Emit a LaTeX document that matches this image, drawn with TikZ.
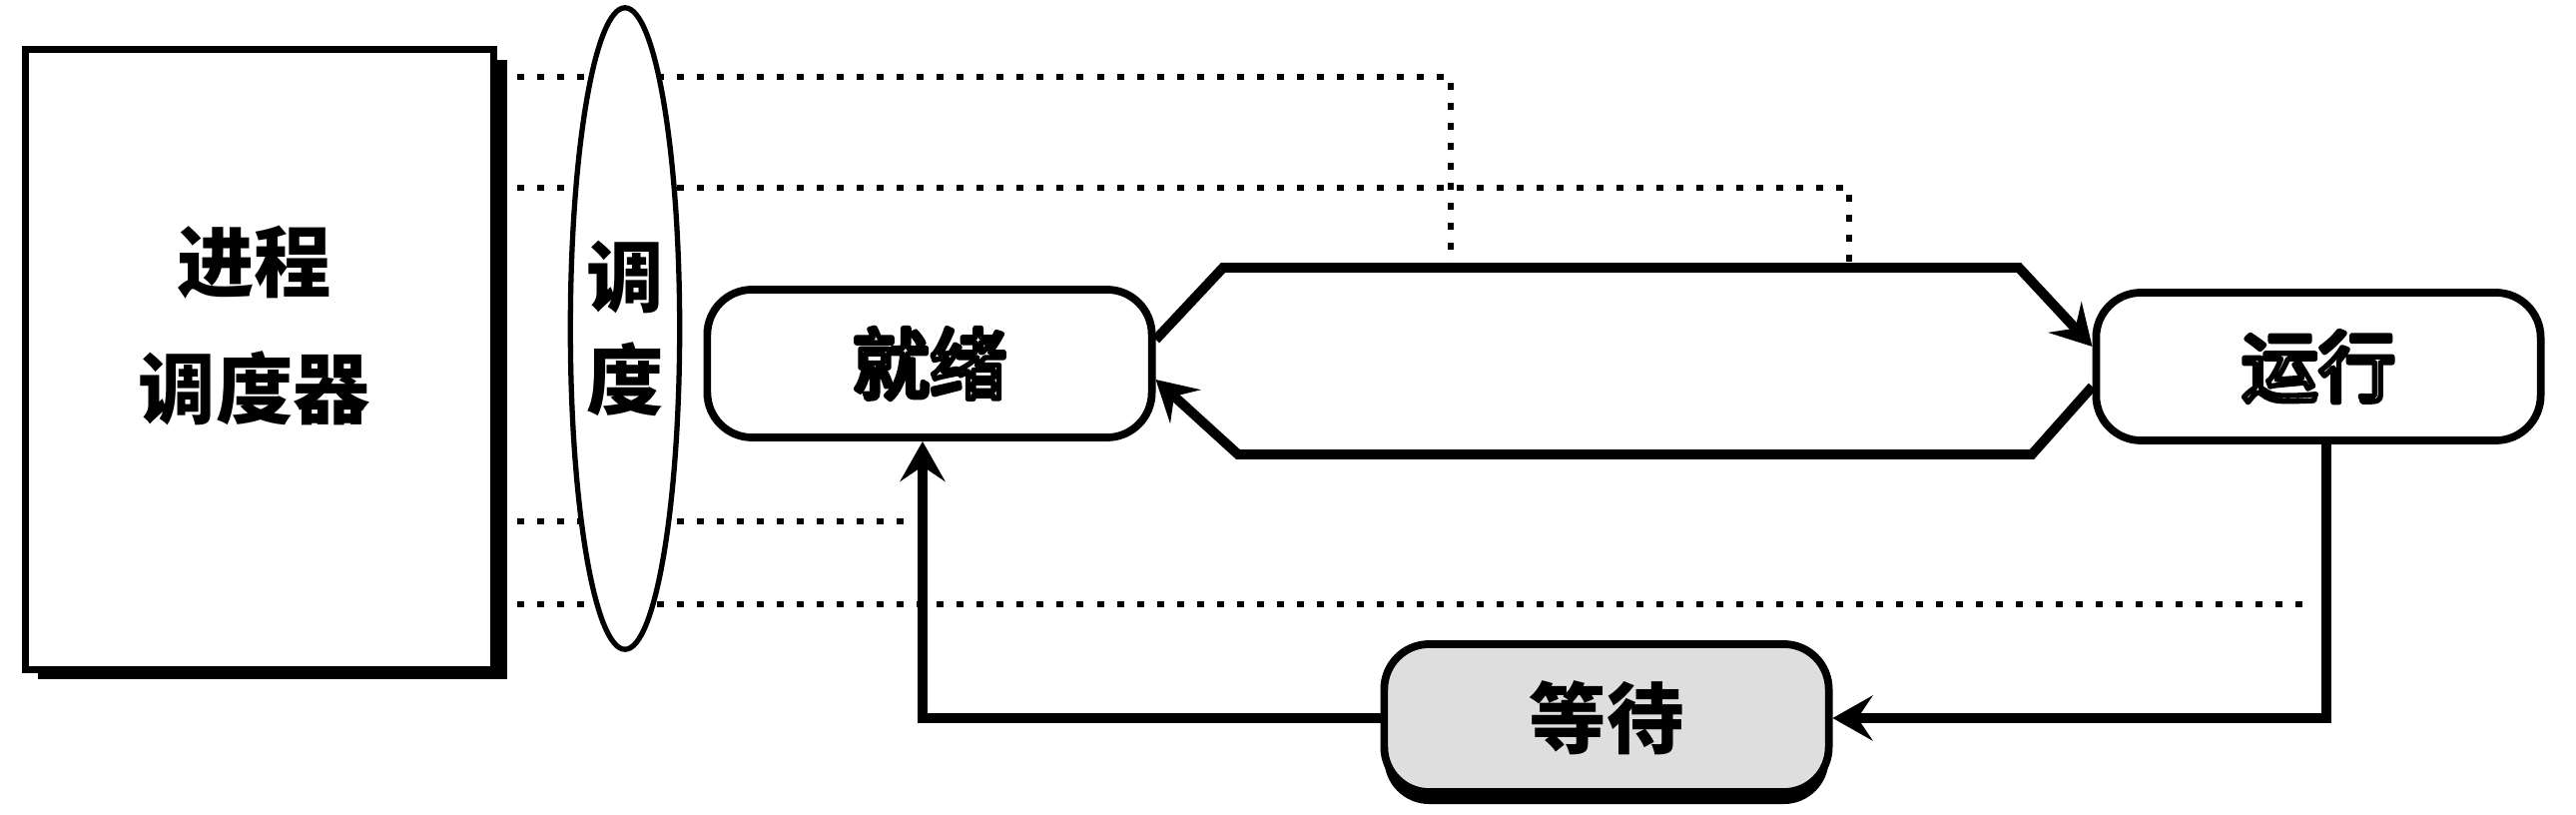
\documentclass[tikz,border=0pt]{standalone}
\usepackage{fontspec}
\newfontfamily\cjk{Noto Sans CJK SC}
\usetikzlibrary{positioning, shapes.geometric, shadows, arrows.meta}

% white letters with a heavy black outline
\newcommand\glowtext[1]{{\mdseries\color{white}\special{pdf:literal direct 0 G 2 Tr 1.5 w 1 j}#1\special{pdf:literal direct 0 Tr}}}

\begin{document}
\begin{tikzpicture}[x=0.01cm, y=-0.01cm,
    every node/.style={font=\cjk\bfseries\fontsize{22}{36}\selectfont},
    sched/.style={draw=black, line width=2pt, fill=white, minimum width=4.69cm, minimum height=6.2cm,
        drop shadow={shadow xshift=1.3mm, shadow yshift=-1mm, fill=black, opacity=1}},
    lens/.style={shape=ellipse, draw=black, line width=1.5pt, fill=white, minimum width=1.09cm,
        minimum height=6.42cm, inner sep=0pt, align=center, font=\cjk\bfseries\fontsize{22}{29.5}\selectfont},
    state/.style={draw=black, line width=2.2pt, fill=white, rounded corners=4.5mm,
        minimum width=4.45cm, minimum height=1.48cm},
    flow/.style={line width=2.8pt, -{Stealth[length=4mm, width=4.5mm, inset=1.5mm]}},
    signal/.style={line width=1.5pt, dash pattern=on 0.7mm off 1.3mm}]

        \useasboundingbox (0,0) rectangle (2580,816);

        % scheduler box
        \node[sched] (sched) at (260,360) {};
        \node[align=center] (schedtext) at (255,326) {进程\\调度器};

        % states
        \node[state] (ready) at (931,364) {\glowtext{就绪}};
        \node[state] (run) at (2322,367) {\glowtext{运行}};
        \node[state, fill=black!13, drop shadow={shadow xshift=0mm, shadow yshift=-1.2mm, fill=black, opacity=1}] (wait) at (1609,719) {等待};

        \coordinate (d1) at (1453,268);
        \coordinate (d2) at (1852,268);
        \coordinate (d3) at (905,522);
        \coordinate (d4) at (2312,605);

        % dotted lines from the scheduler
        \draw[signal] (sched.east |- 0,77) -| (d1);
        \draw[signal] (sched.east |- 0,188) -| (d2);
        \draw[signal] (sched.east |- 0,522) -- (d3);
        \draw[signal] (sched.east |- 0,605) -- (d4);

        \node[lens] (disp) at (626,329) {调\\度};

        % transitions
        \draw[flow] ([yshift=2.4mm]ready.east) -- (1225,268) -- (2022,268) -- ([yshift=2mm]run.west);
        \draw[flow] ([yshift=-2mm]run.west) -- (2035,455) -- (1240,455) -- ([yshift=-1.6mm]ready.east);
        \draw[flow] ([xshift=0.8mm]run.south) |- (wait.east);
        \draw[flow] (wait.west) -| ([xshift=-0.7mm]ready.south);
\end{tikzpicture}
\end{document}
